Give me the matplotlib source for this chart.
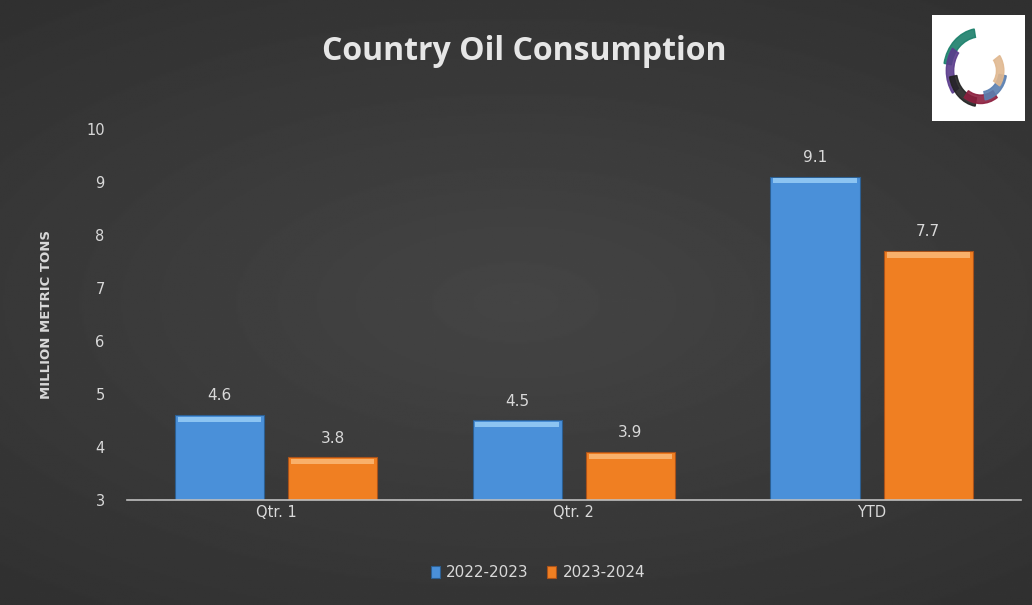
import numpy as np
import matplotlib
matplotlib.use("Agg")
import matplotlib.pyplot as plt
from matplotlib.patches import Rectangle, Wedge

categories = ["Qtr. 1", "Qtr. 2", "YTD"]
series_names = ["2022-2023", "2023-2024"]
values_2223 = [4.6, 4.5, 9.1]
values_2324 = [3.8, 3.9, 7.7]

BLUE = "#4a90d9"
BLUE_TOP = "#8cc4f2"
ORANGE = "#f07f22"
ORANGE_TOP = "#f9b06a"
TEXT = "#d9d9d9"

fig = plt.figure(figsize=(10.32, 6.05), dpi=100)

# dark radial background
bg = fig.add_axes([0, 0, 1, 1], zorder=0)
yy, xx = np.mgrid[-1:1:300j, -1:1:500j]
r = np.sqrt((xx * 0.9) ** 2 + (yy * 1.1) ** 2)
bg.imshow(0.27 - 0.08 * np.clip(r, 0, 1.4) / 1.4, cmap="gray", vmin=0, vmax=1,
          aspect="auto", extent=[0, 1, 0, 1])
bg.set_xlim(0, 1)
bg.set_ylim(0, 1)
bg.axis("off")

ax = fig.add_axes([0.123, 0.174, 0.866, 0.613], zorder=1)
ax.patch.set_alpha(0)

x = np.arange(len(categories))
w = 0.30
off = 0.19
ax.bar(x - off, [v - 3 for v in values_2223], w, bottom=3, color=BLUE,
       edgecolor="#2c5f92", linewidth=0.8, label=series_names[0])
ax.bar(x + off, [v - 3 for v in values_2324], w, bottom=3, color=ORANGE,
       edgecolor="#a9521a", linewidth=0.8, label=series_names[1])

# bevel highlight at the top of each bar
for vals, pos, top in ((values_2223, x - off, BLUE_TOP), (values_2324, x + off, ORANGE_TOP)):
    for v, p in zip(vals, pos):
        ax.add_patch(Rectangle((p - w / 2 + 0.01, v - 0.13), w - 0.02, 0.1,
                               color=top, lw=0, zorder=3))

for vals, pos in ((values_2223, x - off), (values_2324, x + off)):
    for v, p in zip(vals, pos):
        ax.text(p, v + 0.22, f"{v:.1f}", ha="center", va="bottom",
                color=TEXT, fontsize=11)

ax.set_xlim(-0.5, 2.5)
ax.set_ylim(3, 10)
ax.set_yticks(range(3, 11))
ax.set_xticks(x)
ax.set_xticklabels(categories)
ax.tick_params(axis="both", length=0, colors=TEXT, labelsize=10.5)
ax.tick_params(axis="y", pad=16)
for s in ("top", "right", "left"):
    ax.spines[s].set_visible(False)
ax.spines["bottom"].set_color("#bfbfbf")
ax.spines["bottom"].set_linewidth(1.2)
ax.set_ylabel("MILLION METRIC TONS", color=TEXT, fontsize=9.5,
              fontweight="bold", labelpad=24)

leg = ax.legend(loc="upper center", bbox_to_anchor=(0.46, -0.14), ncol=2,
                frameon=False, fontsize=11, handlelength=0.6, handleheight=0.8,
                columnspacing=1.2, handletextpad=0.4)
for t in leg.get_texts():
    t.set_color(TEXT)

fig.text(0.508, 0.915, "Country Oil Consumption", ha="center", va="center",
         color="#e6e6e6", fontsize=23, fontweight="bold", family="Open Sans")

# logo box
lax = fig.add_axes([0.903, 0.8, 0.09, 0.175], zorder=2)
lax.set_xlim(-1, 1)
lax.set_ylim(-1, 1)
lax.set_facecolor("white")
for s in lax.spines.values():
    s.set_visible(False)
lax.set_xticks([])
lax.set_yticks([])
arc_colors = ["#1a7f6a", "#5b3c8c", "#222222", "#8c1f3e", "#5a7fb0", "#e0b890"]
for i, c in enumerate(arc_colors):
    a0 = 100 + i * 45
    lax.add_patch(Wedge((0.05, -0.05), 0.8 - i * 0.06, a0, a0 + 70,
                        width=0.16, color=c, alpha=0.9))

fig.savefig("out.png", dpi=100, facecolor="#2a2a2a")
